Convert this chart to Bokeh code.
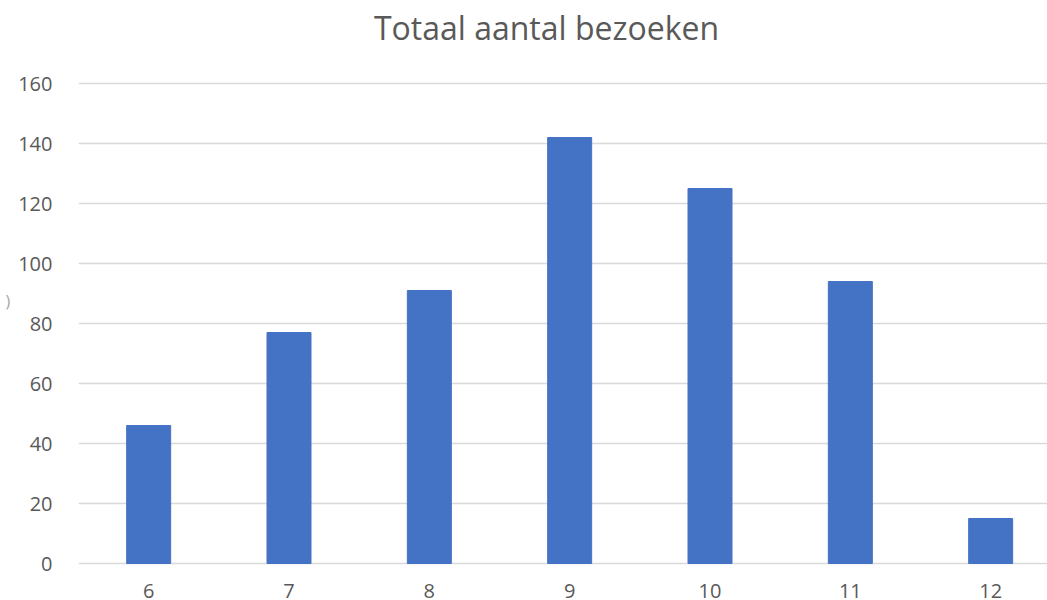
from bokeh.plotting import figure
from bokeh.models import Range1d, FixedTicker, ColumnDataSource
from bokeh.core.properties import value
from bokeh.embed import file_html
from bokeh.resources import INLINE

categories = [6, 7, 8, 9, 10, 11, 12]
bezoeken = [46, 77, 91, 142, 125, 94, 15]
y_ticks = [0, 20, 40, 60, 80, 100, 120, 140, 160]
title_text = "Totaal aantal bezoeken"
y_title_fragment = ")"

FONT = "Open Sans"
GREY = "#595959"

p = figure(width=1047, height=600, output_backend="svg", toolbar_location=None,
           x_range=Range1d(5.5, 12.405), y_range=Range1d(-12.333, 187.667),
           min_border_left=78, min_border_right=0, min_border_top=0, min_border_bottom=0)
p.outline_line_color = None
p.background_fill_color = "white"
p.border_fill_color = "white"

p.vbar(x=categories, top=bezoeken, width=0.3135, bottom=0,
       fill_color="#4472C4", line_color="#4472C4")

p.xgrid.grid_line_color = None
p.ygrid.grid_line_color = "#d9d9d9"
p.ygrid.grid_line_width = 1.5
p.ygrid.ticker = FixedTicker(ticks=y_ticks)

p.yaxis.ticker = FixedTicker(ticks=y_ticks)
p.yaxis.axis_line_color = None
p.yaxis.major_tick_line_color = None
p.yaxis.minor_tick_line_color = None
p.yaxis.major_label_text_color = GREY
p.yaxis.major_label_text_font = FONT
p.yaxis.major_label_text_font_size = "20px"
p.yaxis.major_label_standoff = 20
p.yaxis.axis_label = y_title_fragment
p.yaxis.axis_label_orientation = "horizontal"
p.yaxis.axis_label_standoff = 5
p.yaxis.axis_label_text_font = FONT
p.yaxis.axis_label_text_font_size = "16px"
p.yaxis.axis_label_text_font_style = "normal"
p.yaxis.axis_label_text_color = "#a6a6a6"
p.xaxis.visible = False

# chart title, drawn in the (extended) frame above the 160 gridline
p.text(x=[8.835], y=[178.7], text=[title_text], text_align="center",
       text_baseline="alphabetic", text_font=value(FONT),
       text_font_size=value("32px"), text_color=GREY)

# category labels under the bars (cut at the bottom edge like the reference)
lab = ColumnDataSource(dict(x=categories, y=[-9.2] * len(categories),
                            t=[str(c) for c in categories]))
p.text(x="x", y="y", text="t", source=lab, text_align="center",
       text_baseline="alphabetic", text_font=value(FONT),
       text_font_size=value("20px"), text_color=GREY)

open("out.html", "w").write(file_html(p, INLINE))
